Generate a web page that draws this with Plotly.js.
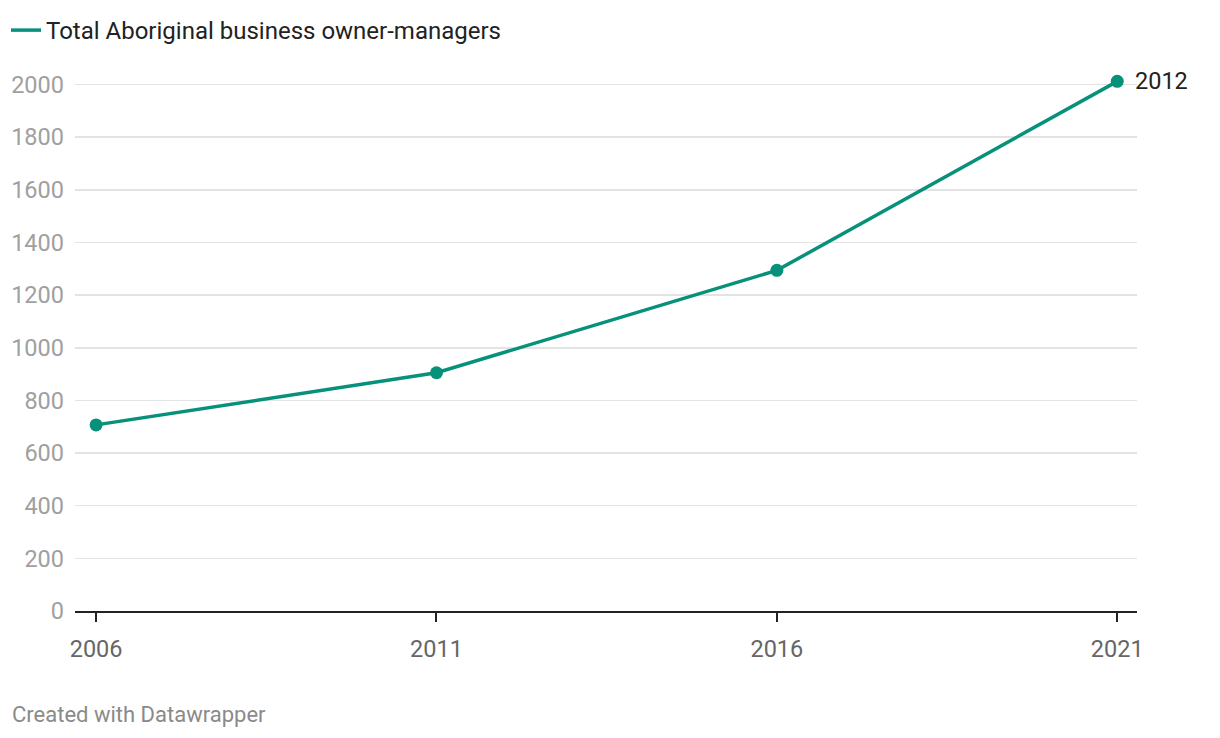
<!DOCTYPE html>
<html>
<head>
<meta charset="utf-8">
<script src="https://cdn.plot.ly/plotly-3.0.1.min.js"></script>
<style>
html,body{margin:0;padding:0;background:#fff;}
#chart{width:1220px;height:738px;}
</style>
</head>
<body>
<div id="chart"></div>
<script>
const years = [2006, 2011, 2016, 2021];
const owners = [707, 905, 1294, 2012];
const seriesName = "Total Aboriginal business owner-managers";
const yTicks = [0, 200, 400, 600, 800, 1000, 1200, 1400, 1600, 1800, 2000];
const xTicks = [2006, 2011, 2016, 2021];
const credit = "Created with Datawrapper";

const green = "#08917a";
const trace = {
  x: years, y: owners, type: "scatter", mode: "lines+markers",
  name: seriesName, showlegend: false,
  line: {color: green, width: 3.5},
  marker: {color: green, size: 13},
  cliponaxis: false,
  hoverinfo: "skip"
};
const legendTrace = {
  x: [null], y: [null], type: "scatter", mode: "lines",
  name: seriesName, showlegend: true,
  line: {color: green, width: 3.5},
  hoverinfo: "skip"
};
const lastIdx = years.length - 1;
const layout = {
  width: 1220, height: 738,
  margin: {l: 75, r: 83, t: 74, b: 127},
  paper_bgcolor: "#fff", plot_bgcolor: "#fff",
  font: {family: "Roboto, sans-serif", size: 23.5, color: "#333"},
  showlegend: true,
  legend: {
    orientation: "h", xref: "container", yref: "container",
    x: 10/1220, y: 1 - 8/738, xanchor: "left", yanchor: "top",
    font: {size: 24, color: "#222"},
    itemwidth: 30, bgcolor: "rgba(0,0,0,0)",
    indentation: -4
  },
  xaxis: {
    range: [2005.69, 2021.29],
    tickvals: xTicks, ticktext: xTicks.map(String),
    showgrid: false, zeroline: false,
    showline: true, linecolor: "#222", linewidth: 2,
    ticks: "outside", ticklen: 9, tickwidth: 2, tickcolor: "#222",
    ticklabelstandoff: 7,
    tickfont: {size: 23.5, color: "#666"},
    fixedrange: true
  },
  yaxis: {
    range: [0, 2040],
    tickvals: yTicks, ticktext: yTicks.map(String),
    showgrid: true, gridcolor: "#e3e3e3", gridwidth: 1.5,
    zeroline: false, showline: false, ticks: "",
    ticklabelstandoff: 10,
    tickfont: {size: 23.5, color: "#a0a0a0"},
    fixedrange: true
  },
  annotations: [
    {
      x: years[lastIdx], y: owners[lastIdx], xref: "x", yref: "y",
      text: String(owners[lastIdx]), showarrow: false,
      xanchor: "left", yanchor: "middle", xshift: 16,
      font: {size: 23.5, color: "#222"}
    },
    {
      xref: "paper", yref: "paper",
      x: -65/1062, y: -103/537,
      text: credit, showarrow: false, xanchor: "left", yanchor: "middle",
      font: {size: 22, color: "#8a8a8a"}
    }
  ]
};
Plotly.newPlot("chart", [trace, legendTrace], layout, {displayModeBar: false, staticPlot: true});
</script>
</body>
</html>
